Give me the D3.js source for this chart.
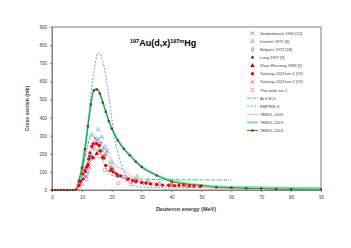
<!DOCTYPE html>
<html>
<head>
<meta charset="utf-8">
<script src="https://cdn.jsdelivr.net/npm/d3@7"></script>
<style>
  html, body { margin: 0; padding: 0; background: #fff; }
  svg { display: block; font-family: "Liberation Sans", Arial, sans-serif; }
</style>
</head>
<body>
<div id="chart"></div>
<script>
// model curves [energy MeV, cross section mb]
const TENDL2014 = [[0,0],[1,0],[2,0],[3,0],[4,0],[5,0],[6,0],[7,0],[8,2],[9,50],[10,122],[11,224],[12,352],[13,472],[14,550],[15,555],[16,532],[17,482],[18,432],[19,380],[20,338],[22,274],[24,227],[26,191],[28,156],[30,127],[35,80],[40,46],[45,33],[50,24],[55,15],[60,13],[65,9],[70,8],[75,6],[80,5],[90,4]];
const TENDL2013 = [[8,2],[9,52],[10,125],[11,228],[12,355],[13,475],[14,552],[15,558],[16,535],[17,486],[18,436],[19,384],[20,342],[22,278],[24,231],[26,195],[28,160],[30,131],[35,84],[40,52],[45,38],[50,28],[55,21],[60,18],[65,16],[70,15],[75,14],[80,13],[90,12]];
const TENDL2009 = [[8,0],[9,15],[10,60],[11,110],[12,145],[13,160],[14,172],[15,182],[16,178],[17,192],[18,202],[19,190],[20,170],[21,140],[22,126],[23,120],[24,108],[25,95],[26,82],[28,62],[30,48],[35,30],[40,20],[50,12],[60,8],[70,6],[80,5],[90,4]];
const EMPIRE = [[8,0],[9,20],[10,80],[11,200],[12,340],[13,520],[14,650],[15,740],[15.6,760],[16,755],[17,710],[18,630],[19,520],[20,395],[21,280],[22,205],[23,150],[24,105],[25,72],[26,46],[27,30],[28,20],[30,16],[35,14],[40,12],[46,10]];
const ALICE = [[8,0],[9,20],[10,80],[11,170],[12,250],[13,300],[14,295],[15,262],[16,212],[17,163],[18,122],[19,95],[20,82],[22,72],[25,65],[30,60],[40,57],[50,56],[60,55]];

// experimental points
const VANDENBOSCH = [[11.5,75],[12.5,150],[13.5,230],[14.5,285],[15.5,280],[16.5,262],[17.5,235],[18.5,215],[19.5,150],[20.5,120],[22,80],[24,70],[27,50],[30,40],[33,35]];
const DENZLER = [[13.3,305],[15.4,333],[16.6,293],[17.8,237],[20,150],[24,74],[28.5,75],[32,55]];
const BELYAEV = [[12,100],[13,185],[14,232],[15,262],[16,250],[17,222],[18,200],[20,120],[22,80],[25,65],[28,50],[32,42],[36,35],[40,30]];
const LONG = [[10.5,60],[11.2,100],[12.5,185],[20,115],[22,78]];
const ZHAO = [[12,140],[13.6,180],[15,200],[17,180]];
const TARK1 = [[9,25],[9.6,48],[10.3,89],[11,110],[11.6,126],[12.3,170],[12.7,204],[13.3,240],[13.8,256],[14.9,256],[15.8,246],[16.2,215],[17.4,176],[18,135],[19.6,107],[20.5,100],[21.5,90],[23,78],[25.5,61],[27,52],[28.2,48],[30,41],[31.5,38],[33,33],[35,30],[37,27],[39,26],[41,24],[42.5,26],[44,28],[46,24],[47.5,22],[49.6,20]];
const TARK2 = [[9.5,35],[11,75],[12.5,125],[14,175],[15.5,215],[17.5,190],[19.5,125],[22,80],[25,55],[28,45],[31,38],[35,32],[40,28],[45,25]];
const THISWORK = [[9,12],[10,30],[11.5,60],[17.7,111],[22.2,38],[26.4,32]];

const X_TICKS = [0,10,20,30,40,50,60,70,80,90];
const Y_TICKS = [0,100,200,300,400,500,600,700,800,900];

const W = 351, H = 248;
const m = { top: 27, right: 30, bottom: 58, left: 52 };

const svg = d3.select('#chart').append('svg')
  .attr('width', W).attr('height', H);

const x = d3.scaleLinear().domain([0, 90]).range([m.left, W - m.right]);
const y = d3.scaleLinear().domain([0, 900]).range([H - m.bottom, m.top]);

// axes
svg.append('g')
  .attr('transform', `translate(0,${H - m.bottom})`)
  .call(d3.axisBottom(x).tickValues(X_TICKS).tickSize(2).tickPadding(4))
  .call(g => g.selectAll('text').attr('font-size', 4.5).attr('fill', '#404040'))
  .call(g => g.selectAll('line,path').attr('stroke', '#7f7f7f'));

svg.append('g')
  .attr('transform', `translate(${m.left},0)`)
  .call(d3.axisLeft(y).tickValues(Y_TICKS).tickSize(2).tickPadding(3))
  .call(g => g.selectAll('text').attr('font-size', 4.5).attr('fill', '#404040'))
  .call(g => g.selectAll('line,path').attr('stroke', '#7f7f7f'));

// plot box
svg.append('rect')
  .attr('x', m.left).attr('y', m.top)
  .attr('width', W - m.left - m.right).attr('height', H - m.top - m.bottom)
  .attr('fill', 'none').attr('stroke', '#7f7f7f').attr('stroke-width', 1);

const line = d3.line().x(d => x(d[0])).y(d => y(d[1])).curve(d3.curveMonotoneX);

const curves = [
  { data: TENDL2013, color: '#8fdcb2', width: 2, dash: null },
  { data: TENDL2009, color: '#ff8f8f', width: 0.8, dash: null },
  { data: EMPIRE, color: '#5b9bd5', width: 0.9, dash: '2,1.5' },
  { data: ALICE, color: '#00b050', width: 0.8, dash: '3,1,1,1' },
  { data: TENDL2014, color: '#00b050', width: 1.1, dash: null },
];

curves.forEach(c => {
  svg.append('path')
    .attr('d', line(c.data))
    .attr('fill', 'none')
    .attr('stroke', c.color)
    .attr('stroke-width', c.width)
    .attr('stroke-dasharray', c.dash);
});

const timesType = d3.symbolTimes || d3.symbolCross;

const series = [
  { data: VANDENBOSCH, type: timesType, size: 10, fill: 'none', stroke: '#7030a0' },
  { data: DENZLER, type: d3.symbolTriangle, size: 10, fill: '#bdd7ee', stroke: '#9dc3e6' },
  { data: BELYAEV, type: d3.symbolDiamond, size: 9, fill: '#c9d3e3', stroke: '#8497b0' },
  { data: LONG, type: d3.symbolCircle, size: 7, fill: '#2f5597', stroke: 'none' },
  { data: ZHAO, type: d3.symbolTriangle, size: 9, fill: '#c00000', stroke: 'none' },
  { data: TARK2, type: timesType, size: 10, fill: 'none', stroke: '#ff0000' },
  { data: THISWORK, type: d3.symbolSquare, size: 8, fill: 'none', stroke: '#ff6f6f' },
  { data: TARK1, type: d3.symbolCircle, size: 9, fill: '#ff0000', stroke: 'none' },
  { data: TENDL2014.filter(d => d[0] !== 45), type: d3.symbolSquare, size: 5, fill: '#8b2a20', stroke: 'none' },
];

series.forEach(s => {
  svg.append('g').selectAll('path')
    .data(s.data)
    .join('path')
    .attr('transform', d => `translate(${x(d[0])},${y(d[1])})`)
    .attr('d', d3.symbol().type(s.type).size(s.size))
    .attr('fill', s.fill)
    .attr('stroke', s.stroke)
    .attr('stroke-width', 0.6);
});

// title
const title = svg.append('text')
  .attr('x', 130).attr('y', 46)
  .attr('font-size', 9).attr('font-weight', 'bold').attr('fill', '#000');
title.append('tspan').attr('font-size', 5.5).attr('dy', -3.5).text('197');
title.append('tspan').attr('dy', 3.5).text('Au(d,x)');
title.append('tspan').attr('font-size', 5.5).attr('dy', -3.5).text('197m');
title.append('tspan').attr('dy', 3.5).text('Hg');

// axis labels
svg.append('text')
  .attr('x', 186).attr('y', 211)
  .attr('text-anchor', 'middle')
  .attr('font-size', 5.5).attr('font-weight', 'bold').attr('fill', '#404040')
  .text('Deuteron energy (MeV)');

svg.append('text')
  .attr('transform', `translate(29,${(m.top + H - m.bottom) / 2}) rotate(-90)`)
  .attr('text-anchor', 'middle')
  .attr('font-size', 5).attr('font-weight', 'bold').attr('fill', '#404040')
  .text('Cross section (mb)');

// legend
const LEGEND = [
  { label: 'Vandenbosch 1960 [12]', sym: series[0] },
  { label: 'Denzler 1971 [6]', sym: series[1] },
  { label: 'Belyaev 1972 [18]', sym: series[2] },
  { label: 'Long 1997 [9]', sym: series[3] },
  { label: 'Zhao Wenrong 1989 [5]', sym: series[4] },
  { label: 'Tarkanyi 2011/ser-1 [19]', sym: series[7] },
  { label: 'Tarkanyi 2011/ser-2 [19]', sym: series[5] },
  { label: 'This work ser-1', sym: series[6] },
  { label: 'ALICE-D', line: curves[3] },
  { label: 'EMPIRE-D', line: curves[2] },
  { label: 'TENDL-2009', line: curves[1] },
  { label: 'TENDL 2013', line: curves[0] },
  { label: 'TENDL 2014', line: curves[4], sym: series[8] },
];

const lg = svg.append('g');
LEGEND.forEach((d, i) => {
  const ly = 33.3 + i * 8.1;
  if (d.line) {
    lg.append('line')
      .attr('x1', 247).attr('x2', 258).attr('y1', ly).attr('y2', ly)
      .attr('stroke', d.line.color)
      .attr('stroke-width', d.line.width)
      .attr('stroke-dasharray', d.line.dash);
  }
  if (d.sym) {
    lg.append('path')
      .attr('transform', `translate(252.5,${ly})`)
      .attr('d', d3.symbol().type(d.sym.type).size(d.sym.size))
      .attr('fill', d.sym.fill)
      .attr('stroke', d.sym.stroke)
      .attr('stroke-width', 0.6);
  }
  lg.append('text')
    .attr('x', 260).attr('y', ly)
    .attr('dominant-baseline', 'central')
    .attr('font-size', 4).attr('fill', '#404040')
    .text(d.label);
});
</script>
</body>
</html>
